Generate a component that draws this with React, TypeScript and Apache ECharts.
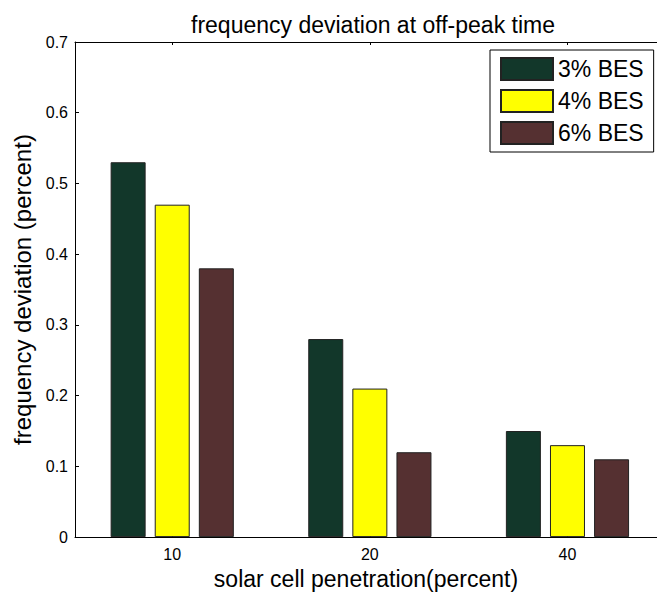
import React, { useEffect, useRef } from "react";
import * as echarts from "echarts";

const categories = ["10", "20", "40"];
const seriesNames = ["3% BES", "4% BES", "6% BES"];
const bes3 = [0.53, 0.28, 0.15];
const bes4 = [0.47, 0.21, 0.13];
const bes6 = [0.38, 0.12, 0.11];
const seriesValues = [bes3, bes4, bes6];
const colors = ["#12372A", "#FFFF00", "#553031"];
const catPositions = categories.map((_, i) => i + 1);

const FONT = "'Liberation Sans', Arial, sans-serif";

export default function App() {
  const ref = useRef<HTMLDivElement>(null);
  useEffect(() => {
    document.body.style.margin = "0";
    if (!ref.current) return;
    const chart = echarts.init(ref.current, null, { renderer: "svg" });
    const labelFor = (v: number) => {
      const idx = catPositions.findIndex((p) => Math.abs(p - v) < 1e-6);
      return idx >= 0 ? categories[idx] : "";
    };
    chart.setOption({
      animation: false,
      backgroundColor: "#ffffff",
      title: {
        text: "frequency deviation at off-peak time",
        left: 368,
        top: 8,
        textAlign: "center",
        textStyle: { fontFamily: FONT, fontSize: 23, fontWeight: "normal", color: "#000" },
      },
      legend: {
        orient: "vertical",
        left: 490,
        top: 50,
        padding: [7, 10, 7, 10],
        itemWidth: 52,
        itemHeight: 22,
        itemGap: 8,
        icon: "rect",
        borderColor: "#000",
        borderWidth: 1,
        backgroundColor: "#fff",
        data: seriesNames,
        textStyle: { fontFamily: FONT, fontSize: 23, lineHeight: 22, color: "#000" },
      },
      grid: { left: 75, top: 42, right: 0, height: 501, containLabel: false },
      xAxis: [
        {
          type: "value",
          min: 0.508,
          max: 3.453,
          position: "bottom",
          axisLine: { show: true, lineStyle: { color: "#000", width: 1 } },
          axisTick: { show: true, inside: true, length: 4, customValues: catPositions, lineStyle: { color: "#000" } },
          axisLabel: {
            show: true,
            customValues: catPositions,
            formatter: (v: number) => labelFor(v),
            fontFamily: FONT,
            fontSize: 16,
            color: "#000",
            margin: 9,
          },
          splitLine: { show: false },
          name: "solar cell penetration(percent)",
          nameLocation: "middle",
          nameGap: 27,
          nameTextStyle: { fontFamily: FONT, fontSize: 23, color: "#000" },
        },
        {
          type: "value",
          min: 0.508,
          max: 3.453,
          position: "top",
          axisLine: { show: true, lineStyle: { color: "#000", width: 1 } },
          axisTick: { show: true, inside: true, length: 3, customValues: catPositions, lineStyle: { color: "#000" } },
          axisLabel: { show: false },
          splitLine: { show: false },
        },
      ],
      yAxis: {
        type: "value",
        min: 0,
        max: 0.7,
        interval: 0.1,
        axisLine: { show: true, lineStyle: { color: "#000", width: 1 } },
        axisTick: { show: true, inside: true, length: 4, lineStyle: { color: "#000" } },
        axisLabel: {
          formatter: (v: number) => (v === 0 ? "0" : v.toFixed(1)),
          fontFamily: FONT,
          fontSize: 16,
          color: "#000",
          margin: 7,
        },
        splitLine: { show: false },
        name: "frequency deviation (percent)",
        nameLocation: "middle",
        nameGap: 39,
        nameTextStyle: { fontFamily: FONT, fontSize: 24, color: "#000" },
      },
      series: seriesNames.map((name, s) => ({
        name,
        type: "bar",
        xAxisIndex: 0,
        barWidth: 35,
        barGap: "26%",
        data: seriesValues[s].map((v, i) => [catPositions[i], v]),
        itemStyle: { color: colors[s], borderColor: "#222", borderWidth: 1 },
      })),
    });
    return () => chart.dispose();
  }, []);
  return <div ref={ref} style={{ width: 657, height: 595 }} />;
}
